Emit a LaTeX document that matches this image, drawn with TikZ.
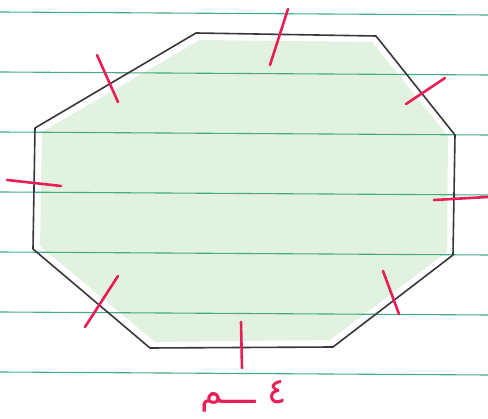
\documentclass[tikz,border=0pt]{standalone}
\usepackage{fontspec}
\newfontfamily\arabicfont[Script=Arabic]{DejaVu Sans}
\TeXXeTstate=1
\definecolor{ruleline}{RGB}{70,170,130}
\definecolor{pencilgreen}{RGB}{208,234,204}
\definecolor{inkred}{RGB}{232,30,85}
\definecolor{pencil}{RGB}{55,55,60}
\tikzset{
  ruled/.style={draw=ruleline, line width=1.1pt},
  shape edge/.style={draw=pencil, line width=1.6pt, line join=round},
  tickmark/.style={draw=inkred, line width=2.6pt, line cap=round},
  shading fill/.style={fill=pencilgreen, opacity=0.6},
  redtext/.style={text=inkred, font=\arabicfont\fontsize{36}{36}\selectfont, inner sep=0pt}
}
\begin{document}
\begin{tikzpicture}[x=1pt,y=-1pt]
\useasboundingbox (0,0) rectangle (488,419);
\fill[white] (0,0) rectangle (488,419);
% octagon vertices
\coordinate (A) at (196,33);
\coordinate (B) at (376,36);
\coordinate (C) at (455,135);
\coordinate (D) at (453,255);
\coordinate (E) at (333,347);
\coordinate (F) at (150,348);
\coordinate (G) at (33,249);
\coordinate (H) at (35,128);
% shading
\path[shading fill] (200,40) -- (372,42) -- (448,136) -- (447,252) -- (330,340) -- (155,342) -- (40,246) -- (42,132) -- cycle;
% ruled lines
\foreach \y in {12,72,132,192,252,312,372} {
  \draw[ruled] (0,\y) -- (488,\y+3);
}
% octagon
\draw[shape edge] (A) -- (B) -- (C) -- (D) -- (E) -- (F) -- (G) -- (H) -- cycle;
% tick marks
\draw[tickmark] (288,9) -- (270,65);
\draw[tickmark] (97,55) -- (118,102);
\draw[tickmark] (445,78) -- (406,104);
\draw[tickmark] (7,180) -- (61,186);
\draw[tickmark] (434,200) -- (488,197);
\draw[tickmark] (118,276) -- (85,327);
\draw[tickmark] (383,271) -- (399,314);
\draw[tickmark] (241,322) -- (242,368);
% label
\node[redtext] (lbl) at (244,396) {\beginR ٤ ـــم\endR};
\end{tikzpicture}
\end{document}
